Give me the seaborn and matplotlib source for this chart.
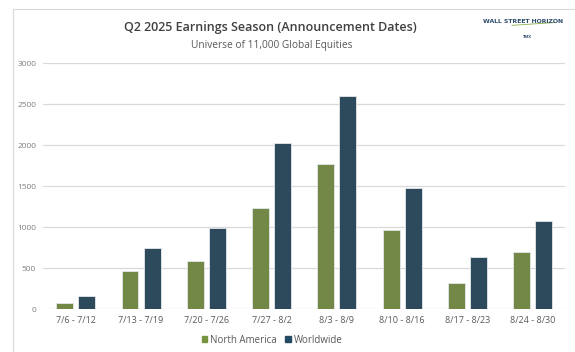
import seaborn as sns
import matplotlib.pyplot as plt
import matplotlib.patches as mpatches
import pandas as pd

weeks = ['7/6 - 7/12', '7/13 - 7/19', '7/20 - 7/26', '7/27 - 8/2',
         '8/3 - 8/9', '8/10 - 8/16', '8/17 - 8/23', '8/24 - 8/30']
north_america = [73, 462, 592, 1228, 1767, 965, 316, 697]
worldwide = [162, 746, 985, 2027, 2598, 1475, 640, 1078]
regions = ['North America', 'Worldwide']
colors = ['#77933c', '#254a64']

df = pd.DataFrame({'week': weeks * 2,
                   'count': north_america + worldwide,
                   'region': [regions[0]] * len(weeks) + [regions[1]] * len(weeks)})

sns.set_style('white')
plt.rcParams['font.family'] = ['Open Sans', 'DejaVu Sans']

fig = plt.figure(figsize=(5.75, 3.52), dpi=100)
ax = fig.add_axes([0.075, 0.122, 0.908, 0.699])

sns.barplot(data=df, x='week', y='count', hue='region', order=weeks,
            hue_order=regions, palette=colors, width=0.675, gap=0.23,
            edgecolor='#e4e8ec', linewidth=0.6, ax=ax, legend=False)

ax.set_ylim(0, 3000)
ax.set_xlim(-0.5, len(weeks) - 0.5)
ax.set_yticks(range(0, 3001, 500))
ax.yaxis.grid(True, color='#d9d9d9', linewidth=0.9)
ax.set_axisbelow(True)
for s in ax.spines.values():
    s.set_visible(False)
ax.tick_params(axis='y', labelsize=6, colors='#7f7f7f', length=0, pad=5)
ax.tick_params(axis='x', labelsize=6.5, colors='#595959', length=0, pad=5)
ax.set_xlabel('')
ax.set_ylabel('')

handles = [mpatches.Patch(color=c, label=r) for c, r in zip(colors, regions)]
fig.legend(handles=handles, loc='center', bbox_to_anchor=(0.473, 0.034), ncol=2,
           frameon=False, fontsize=7, handlelength=0.55, handleheight=0.55,
           handletextpad=0.3, columnspacing=0.9, labelcolor='#595959')

fig.text(0.47, 0.923, 'Q2 2025 Earnings Season (Announcement Dates)',
         ha='center', va='center', fontsize=9, color='#404040', fontweight='semibold')
fig.text(0.472, 0.872, 'Universe of 11,000 Global Equities',
         ha='center', va='center', fontsize=7.3, color='#595959')

# logo as text
fig.text(0.909, 0.94, 'WALL STREET HORIZON', ha='center', va='center',
         fontsize=4.4, fontweight='bold', color='#2b4a6a',
         family=['Liberation Sans Narrow', 'DejaVu Sans'])
fig.lines.append(plt.Line2D([0.89, 0.965], [0.928, 0.936], transform=fig.transFigure,
                            color='#8db04a', linewidth=0.6))
fig.text(0.918, 0.895, 'TMX', ha='center', va='center', fontsize=3,
         color='#2b4a6a', fontweight='bold')

fig.patches.append(mpatches.Rectangle((13 / 575, -0.05), 1.1, 1 - 9 / 352 + 0.05,
                                      transform=fig.transFigure, fill=False,
                                      edgecolor='#d9d9d9', linewidth=0.8))

fig.savefig('out.png', dpi=100)
